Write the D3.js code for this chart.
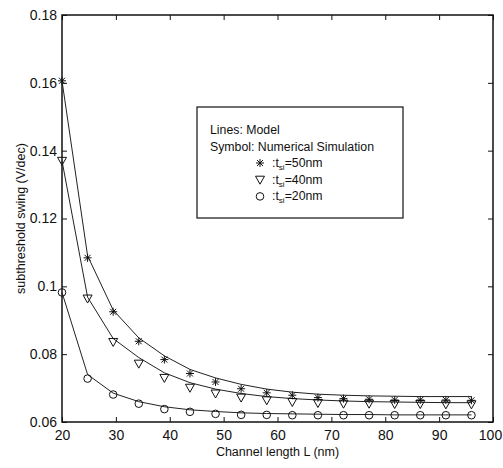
<!DOCTYPE html>
<html>
<head>
<meta charset="utf-8">
<script src="https://cdn.jsdelivr.net/npm/d3@7"></script>
<style>
  body { margin: 0; background: #fff; }
  text { font-family: "Liberation Sans", Arial, sans-serif; fill: #111; }
</style>
</head>
<body>
<script>
var width = 503;
var height = 468;
var margin = { top: 15, right: 10, bottom: 46, left: 62 };

// channel length samples (nm)
var lengths = [20, 24.75, 29.5, 34.25, 39, 43.75, 48.5, 53.25, 58, 62.75, 67.5, 72.25, 77, 81.75, 86.5, 91.25, 96];

// model curves (lines)
var model50 = [0.1606, 0.1090, 0.0930, 0.0848, 0.0795, 0.0755, 0.0730, 0.0711, 0.0697, 0.0688, 0.0682, 0.0679, 0.0677, 0.0676, 0.0675, 0.0675, 0.0675];
var model40 = [0.1370, 0.0968, 0.0846, 0.0790, 0.0745, 0.0716, 0.0697, 0.0684, 0.0675, 0.0669, 0.0665, 0.0662, 0.0660, 0.0659, 0.0658, 0.0657, 0.0657];
var model20 = [0.0982, 0.0740, 0.0685, 0.0660, 0.0645, 0.0636, 0.0631, 0.0627, 0.0625, 0.0624, 0.0623, 0.0622, 0.0622, 0.0621, 0.0621, 0.0621, 0.0621];

// numerical simulation (symbols)
var sim50 = [0.1606, 0.1084, 0.0925, 0.0838, 0.0784, 0.0743, 0.0718, 0.0698, 0.0686, 0.0679, 0.0672, 0.0669, 0.0667, 0.0665, 0.0665, 0.0665, 0.0664];
var sim40 = [0.1370, 0.0964, 0.0836, 0.0772, 0.0730, 0.0701, 0.0684, 0.0672, 0.0664, 0.0659, 0.0656, 0.0654, 0.0654, 0.0653, 0.0653, 0.0652, 0.0652];
var sim20 = [0.0982, 0.0728, 0.0681, 0.0654, 0.0638, 0.0630, 0.0624, 0.0621, 0.0621, 0.0620, 0.0620, 0.0620, 0.0620, 0.0620, 0.0620, 0.0620, 0.0620];

var xTicks = [20, 30, 40, 50, 60, 70, 80, 90, 100];
var yTicks = [0.06, 0.08, 0.1, 0.12, 0.14, 0.16, 0.18];
var yTickLabels = ['0.06', '0.08', '0.1', '0.12', '0.14', '0.16', '0.18'];

var legendLines = ['Lines: Model', 'Symbol: Numerical Simulation'];
var legendSeries = [
  { marker: 'star', label: '50nm' },
  { marker: 'tri', label: '40nm' },
  { marker: 'circle', label: '20nm' }
];

var x = d3.scaleLinear().domain([20, 100]).range([margin.left, width - margin.right]);
var y = d3.scaleLinear().domain([0.06, 0.18]).range([height - margin.bottom, margin.top]);

var svg = d3.select('body').append('svg')
  .attr('width', width)
  .attr('height', height);

// axes with inward ticks on all four sides
var tickLen = 5;
svg.append('g')
  .attr('class', 'xaxis')
  .attr('transform', 'translate(0,' + y(0.06) + ')')
  .call(d3.axisBottom(x).tickValues(xTicks).tickSize(-tickLen).tickPadding(8).tickFormat(d3.format('d')))
  .call(function (g) { g.select('.domain').remove(); });
svg.append('g')
  .attr('transform', 'translate(0,' + y(0.18) + ')')
  .call(d3.axisTop(x).tickValues(xTicks).tickSize(-tickLen).tickFormat(''))
  .call(function (g) { g.select('.domain').remove(); });
svg.append('g')
  .attr('transform', 'translate(' + x(20) + ',0)')
  .call(d3.axisLeft(y).tickValues(yTicks).tickSize(-tickLen).tickPadding(5)
    .tickFormat(function (d, i) { return yTickLabels[i]; }))
  .call(function (g) { g.select('.domain').remove(); });
svg.append('g')
  .attr('transform', 'translate(' + x(100) + ',0)')
  .call(d3.axisRight(y).tickValues(yTicks).tickSize(-tickLen).tickFormat(''))
  .call(function (g) { g.select('.domain').remove(); });

svg.selectAll('.tick line').attr('stroke', '#111');
svg.selectAll('.tick text').style('font-size', '14px').attr('fill', '#111');
// keep the last x label inside the window
svg.selectAll('.xaxis .tick text').filter(function (d) { return d === 100; }).attr('dx', -3);

svg.append('rect')
  .attr('x', x(20)).attr('y', y(0.18))
  .attr('width', x(100) - x(20)).attr('height', y(0.06) - y(0.18))
  .attr('fill', 'none').attr('stroke', '#111').attr('stroke-width', 1.5);

// axis titles
svg.append('text')
  .attr('x', (x(20) + x(100)) / 2).attr('y', 456)
  .attr('text-anchor', 'middle').style('font-size', '12.5px')
  .text('Channel length L (nm)');
svg.append('text')
  .attr('transform', 'translate(25,' + ((y(0.06) + y(0.18)) / 2) + ') rotate(-90)')
  .attr('text-anchor', 'middle').style('font-size', '12.5px')
  .text('subthreshold swing (V/dec)');

// model lines
var line = d3.line()
  .x(function (d, i) { return x(lengths[i]); })
  .y(function (d) { return y(d); });

[model50, model40, model20].forEach(function (m) {
  svg.append('path')
    .datum(m)
    .attr('d', line)
    .attr('fill', 'none')
    .attr('stroke', '#222')
    .attr('stroke-width', 1);
});

// marker drawing
function drawMarker(g, type, cx, cy) {
  if (type === 'star') {
    var s = 4;
    var d = 'M' + (cx - s) + ' ' + cy + 'H' + (cx + s) +
      'M' + cx + ' ' + (cy - s) + 'V' + (cy + s) +
      'M' + (cx - s * 0.75) + ' ' + (cy - s * 0.75) + 'L' + (cx + s * 0.75) + ' ' + (cy + s * 0.75) +
      'M' + (cx - s * 0.75) + ' ' + (cy + s * 0.75) + 'L' + (cx + s * 0.75) + ' ' + (cy - s * 0.75);
    g.append('path').attr('d', d).attr('stroke', '#111').attr('stroke-width', 1).attr('fill', 'none');
  } else if (type === 'tri') {
    var t = 'M' + (cx - 4.5) + ' ' + (cy - 3.5) + 'L' + (cx + 4.5) + ' ' + (cy - 3.5) + 'L' + cx + ' ' + (cy + 4.5) + 'Z';
    g.append('path').attr('d', t).attr('stroke', '#111').attr('stroke-width', 1).attr('fill', 'none');
  } else {
    g.append('circle').attr('cx', cx).attr('cy', cy).attr('r', 3.8)
      .attr('stroke', '#111').attr('stroke-width', 1).attr('fill', 'none');
  }
}

var markers = svg.append('g');
[[sim50, 'star'], [sim40, 'tri'], [sim20, 'circle']].forEach(function (s) {
  s[0].forEach(function (v, i) {
    drawMarker(markers, s[1], x(lengths[i]), y(v));
  });
});

// legend
var lg = svg.append('g').attr('transform', 'translate(197,107)');
lg.append('rect')
  .attr('width', 206).attr('height', 111)
  .attr('fill', '#fff').attr('stroke', '#111').attr('stroke-width', 1.2);
lg.selectAll('text.head')
  .data(legendLines)
  .enter().append('text')
  .attr('class', 'head')
  .attr('x', 13).attr('y', function (d, i) { return 27 + i * 16.7; })
  .style('font-size', '12.3px')
  .text(function (d) { return d; });
legendSeries.forEach(function (d, i) {
  var yy = 60 + i * 16.7;
  drawMarker(lg, d.marker, 63, yy - 4);
  var t = lg.append('text').attr('x', 75).attr('y', yy).style('font-size', '12.3px');
  t.append('tspan').text(':t');
  t.append('tspan').attr('dy', 3).style('font-size', '8px').text('si');
  t.append('tspan').attr('dy', -3).text('=' + d.label);
});
</script>
</body>
</html>
